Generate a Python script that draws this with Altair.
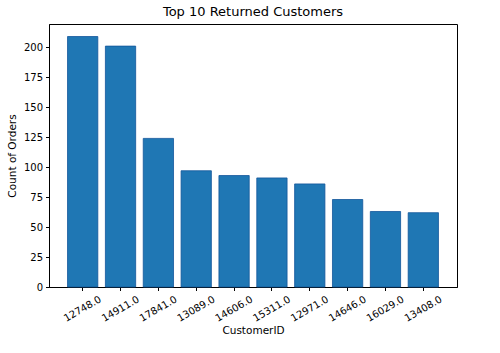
import altair as alt
import pandas as pd

customers = ["12748.0", "14911.0", "17841.0", "13089.0", "14606.0",
             "15311.0", "12971.0", "14646.0", "16029.0", "13408.0"]
orders = [209, 201, 124, 97, 93, 91, 86, 73, 63, 62]

df = pd.DataFrame({"CustomerID": customers, "Count of Orders": orders})

font = "DejaVu Sans"

chart = alt.Chart(df).mark_bar(
    color="#1f77b4", stroke="#12569a", strokeWidth=0.8
).encode(
    x=alt.X("CustomerID:N", sort=None,
            scale=alt.Scale(paddingInner=0.2, paddingOuter=0.49),
            axis=alt.Axis(title="CustomerID", labelAngle=-30, labelAlign="center",
                          labelBaseline="middle", labelPadding=18,
                          tickSize=3.5, titlePadding=2)),
    y=alt.Y("Count of Orders:Q",
            scale=alt.Scale(domain=[0, 219.45], nice=False, zero=True),
            axis=alt.Axis(title="Count of Orders", values=[0, 25, 50, 75, 100, 125, 150, 175, 200],
                          tickSize=3.5, labelPadding=3, titlePadding=6)),
).properties(
    width=408, height=263,
    title=alt.TitleParams("Top 10 Returned Customers", fontSize=13, font=font,
                          fontWeight="normal", color="black", offset=5),
    autosize=alt.AutoSizeParams(type="none"),
    padding={"left": 49, "top": 24, "right": 43, "bottom": 66},
).configure_view(
    stroke="black", strokeWidth=1
).configure_axis(
    grid=False, domainColor="black", tickColor="black", labelColor="black",
    titleColor="black", labelFont=font, titleFont=font, labelFontSize=10,
    titleFontSize=10.5, titleFontWeight="normal", domainWidth=1, tickWidth=1
)

chart.save("out.html", embed_options={"renderer": "svg", "actions": False})
